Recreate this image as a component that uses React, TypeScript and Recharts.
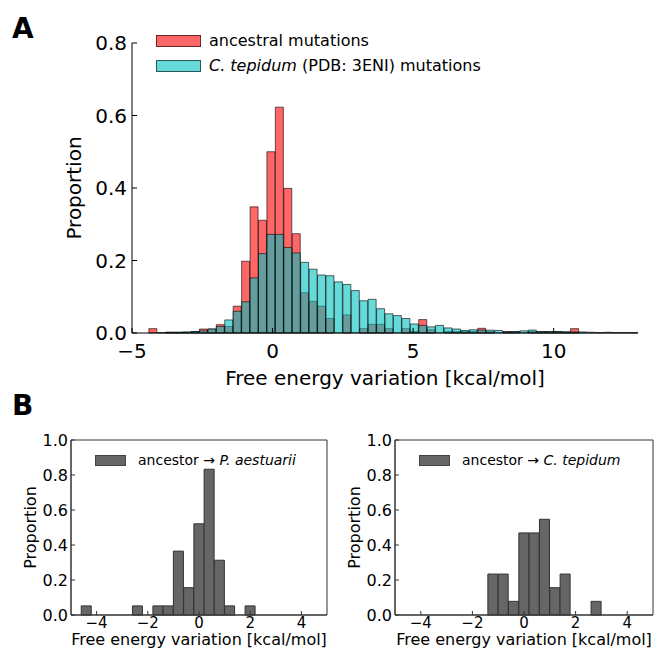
import React from 'react'
import { BarChart, Bar, XAxis, YAxis, Legend, Label, ReferenceArea } from 'recharts'

const FONT = '"DejaVu Sans", sans-serif'

// panel A histograms, 0.3 kcal/mol bins starting at -4.98
const binStartA = -4.98
const binWidthA = 0.3
const ancestral = [
  0, 0, 0.012, 0, 0.002, 0.002, 0.002, 0.004, 0.011, 0.011,
  0.023, 0.018, 0.074, 0.198, 0.348, 0.311, 0.5, 0.623, 0.399, 0.274,
  0.111, 0.087, 0.074, 0.04, 0, 0.05, 0, 0.012, 0.024, 0.024,
  0.012, 0, 0.012, 0.004, 0.037, 0.009, 0, 0.004, 0.004, 0.004,
  0.004, 0.013, 0.004, 0, 0.004, 0.004, 0, 0.004, 0.004, 0.004,
  0.004, 0.003, 0.012, 0, 0, 0, 0, 0, 0, 0,
]
const tepidum = [
  0, 0, 0, 0.001, 0.002, 0.002, 0.003, 0.004, 0.006, 0.011,
  0.018, 0.036, 0.06, 0.086, 0.152, 0.219, 0.272, 0.272, 0.236, 0.221,
  0.195, 0.176, 0.16, 0.158, 0.141, 0.134, 0.117, 0.089, 0.093, 0.067,
  0.053, 0.048, 0.04, 0.025, 0.021, 0.017, 0.021, 0.014, 0.011, 0.007,
  0.009, 0.008, 0.008, 0.007, 0.003, 0.004, 0.006, 0.008, 0.004, 0.004,
  0.004, 0.003, 0.003, 0.003, 0.002, 0.001, 0.002, 0.001, 0.001, 0.001,
]
const ticksAX = [-5, 0, 5, 10]
const ticksAY = [0, 0.2, 0.4, 0.6, 0.8]

// panel B histograms, 0.4 kcal/mol bins starting at -4.98
const binStartB = -4.98
const binWidthB = 0.4
const toAestuarii = [
  0, 0.052, 0, 0, 0, 0, 0.052, 0, 0.052, 0.052,
  0.365, 0.156, 0.521, 0.833, 0.313, 0.052, 0, 0.052, 0, 0,
  0, 0, 0, 0, 0,
]
const toTepidum = [
  0, 0, 0, 0, 0, 0, 0, 0, 0, 0.234,
  0.234, 0.078, 0.469, 0.469, 0.547, 0.156, 0.234, 0, 0, 0.078,
  0, 0, 0, 0, 0,
]
const ticksBX = [-4, -2, 0, 2, 4]
const ticksBY = [0, 0.2, 0.4, 0.6, 0.8, 1.0]

const fmtX = (v: number) => (v < 0 ? '\u2212' + Math.abs(v) : String(v))
const fmtY = (v: number) => v.toFixed(1)

const histA = ancestral.map((v, i) => ({
  bin: i,
  x: +(binStartA + binWidthA * (i + 0.5)).toFixed(2),
  anc: v,
  tep: tepidum[i],
}))

function Patch({ w, h, fill, border }: { w: number; h: number; fill: string; border: string }) {
  return (
    <span
      style={{
        display: 'inline-block',
        width: w,
        height: h,
        boxSizing: 'border-box',
        background: fill,
        border: `1px solid ${border}`,
      }}
    />
  )
}

const legendA = () => (
  <div style={{ fontFamily: FONT, fontSize: 16, color: '#000', whiteSpace: 'nowrap' }}>
    <div style={{ display: 'flex', alignItems: 'center', height: 25 }}>
      <Patch w={45} h={12} fill="rgba(255,0,0,0.6)" border="rgba(0,0,0,0.6)" />
      <span style={{ marginLeft: 8 }}>ancestral mutations</span>
    </div>
    <div style={{ display: 'flex', alignItems: 'center', height: 25 }}>
      <Patch w={45} h={12} fill="rgba(0,191,191,0.6)" border="rgba(0,0,0,0.6)" />
      <span style={{ marginLeft: 8 }}>
        <i>C. tepidum</i> (PDB: 3ENI) mutations
      </span>
    </div>
  </div>
)

const tickStyle = (size: number) => ({ fill: '#000', fontSize: size, fontFamily: FONT })
const labelStyle = (size: number) => ({ fill: '#000', fontSize: size, fontFamily: FONT })

function PanelA() {
  return (
    <BarChart
      width={655}
      height={400}
      data={histA}
      margin={{ top: 43, right: 17, bottom: 7, left: 0 }}
      barCategoryGap={0}
      barGap={0}
    >
      <XAxis
        xAxisId="num"
        type="number"
        dataKey="x"
        domain={[-5, 13]}
        ticks={ticksAX}
        tickFormatter={fmtX}
        allowDataOverflow
        interval={0}
        height={60}
        tickSize={-5}
        tickMargin={16}
        stroke="#000"
        tick={tickStyle(20)}
      >
        <Label value="Free energy variation [kcal/mol]" position="insideBottom" offset={8} style={labelStyle(20)} />
      </XAxis>
      <XAxis xAxisId="anc" dataKey="bin" hide height={0} />
      <XAxis xAxisId="tep" dataKey="bin" hide height={0} />
      <YAxis
        width={132}
        domain={[0, 0.8]}
        ticks={ticksAY}
        tickFormatter={fmtY}
        interval={0}
        tickSize={-5}
        tickMargin={10}
        stroke="#000"
        tick={tickStyle(20)}
      >
        <Label
          value="Proportion"
          angle={-90}
          position="insideLeft"
          offset={74}
          style={{ ...labelStyle(20), textAnchor: 'middle' }}
        />
      </YAxis>
      <Legend
        layout="vertical"
        align="center"
        verticalAlign="middle"
        content={legendA}
        wrapperStyle={{ position: 'absolute', left: 156, top: 28, width: 'auto', height: 'auto' }}
      />
      <Bar
        xAxisId="anc"
        dataKey="anc"
        fill="#ff0000"
        fillOpacity={0.6}
        stroke="#000"
        strokeOpacity={0.6}
        strokeWidth={1}
        isAnimationActive={false}
      />
      <Bar
        xAxisId="tep"
        dataKey="tep"
        fill="#00bfbf"
        fillOpacity={0.6}
        stroke="#000"
        strokeOpacity={0.6}
        strokeWidth={1}
        isAnimationActive={false}
      />
    </BarChart>
  )
}

function PanelB({
  values,
  width,
  right,
  target,
}: {
  values: number[]
  width: number
  right: number
  target: string
}) {
  const data = values.map((v, i) => ({
    bin: i,
    x: +(binStartB + binWidthB * (i + 0.5)).toFixed(2),
    p: v,
  }))
  const legend = () => (
    <div style={{ fontFamily: FONT, fontSize: 14, color: '#000', whiteSpace: 'nowrap', display: 'flex', alignItems: 'center', height: 20 }}>
      <Patch w={31} h={11} fill="#666666" border="#444444" />
      <span style={{ marginLeft: 12 }}>
        ancestor {'\u2192'} <i>{target}</i>
      </span>
    </div>
  )
  return (
    <BarChart
      width={width}
      height={251}
      data={data}
      margin={{ top: 40, right, bottom: 0, left: 0 }}
      barCategoryGap={0}
    >
      <XAxis
        xAxisId="num"
        type="number"
        dataKey="x"
        domain={[-5, 5]}
        ticks={ticksBX}
        tickFormatter={fmtX}
        allowDataOverflow
        interval={0}
        height={36}
        tickSize={-4}
        tickMargin={6}
        stroke="#333"
        tick={tickStyle(15)}
      >
        <Label value="Free energy variation [kcal/mol]" position="insideBottom" offset={6} style={labelStyle(16)} />
      </XAxis>
      <XAxis xAxisId="bin" dataKey="bin" hide height={0} />
      <XAxis
        xAxisId="top"
        orientation="top"
        type="number"
        dataKey="x"
        domain={[-5, 5]}
        ticks={ticksBX}
        allowDataOverflow
        interval={0}
        height={0}
        tick={false}
        tickSize={-4}
        stroke="#333"
      />
      <YAxis
        width={71}
        domain={[0, 1]}
        ticks={ticksBY}
        tickFormatter={fmtY}
        interval={0}
        tickSize={-4}
        tickMargin={7}
        stroke="#333"
        tick={tickStyle(16)}
      >
        <Label
          value="Proportion"
          angle={-90}
          position="insideLeft"
          offset={30}
          style={{ ...labelStyle(16), textAnchor: 'middle' }}
        />
      </YAxis>
      <YAxis
        yAxisId="right"
        orientation="right"
        width={0}
        domain={[0, 1]}
        ticks={ticksBY}
        interval={0}
        tick={false}
        tickSize={-4}
        stroke="#333"
      />
      <Legend
        layout="vertical"
        align="center"
        verticalAlign="middle"
        content={legend}
        wrapperStyle={{ position: 'absolute', left: 95, top: 50, width: 'auto', height: 'auto' }}
      />
      <Bar
        xAxisId="bin"
        dataKey="p"
        fill="#666666"
        stroke="#333333"
        strokeWidth={1}
        isAnimationActive={false}
      />
      <ReferenceArea
        xAxisId="num"
        x1={-5}
        x2={5}
        y1={0}
        y2={1}
        fill="none"
        stroke="#333"
        strokeWidth={1}
        fillOpacity={0}
        ifOverflow="visible"
      />
    </BarChart>
  )
}

export default function App() {
  return (
    <div
      style={{
        position: 'absolute',
        left: 0,
        top: 0,
        width: 655,
        height: 651,
        background: '#fff',
        fontFamily: FONT,
        overflow: 'hidden',
      }}
    >
      <div style={{ position: 'absolute', left: 12, top: 14.6, fontSize: 28, lineHeight: '28px', fontWeight: 'bold' }}>A</div>
      <div style={{ position: 'absolute', left: 12, top: 392, fontSize: 28, lineHeight: '28px', fontWeight: 'bold' }}>B</div>
      <div style={{ position: 'absolute', left: 0, top: 0 }}>
        <PanelA />
      </div>
      <div style={{ position: 'absolute', left: 0, top: 400 }}>
        <PanelB values={toAestuarii} width={340} right={13} target="P. aestuarii" />
      </div>
      <div style={{ position: 'absolute', left: 324, top: 400 }}>
        <PanelB values={toTepidum} width={331} right={2} target="C. tepidum" />
      </div>
    </div>
  )
}
